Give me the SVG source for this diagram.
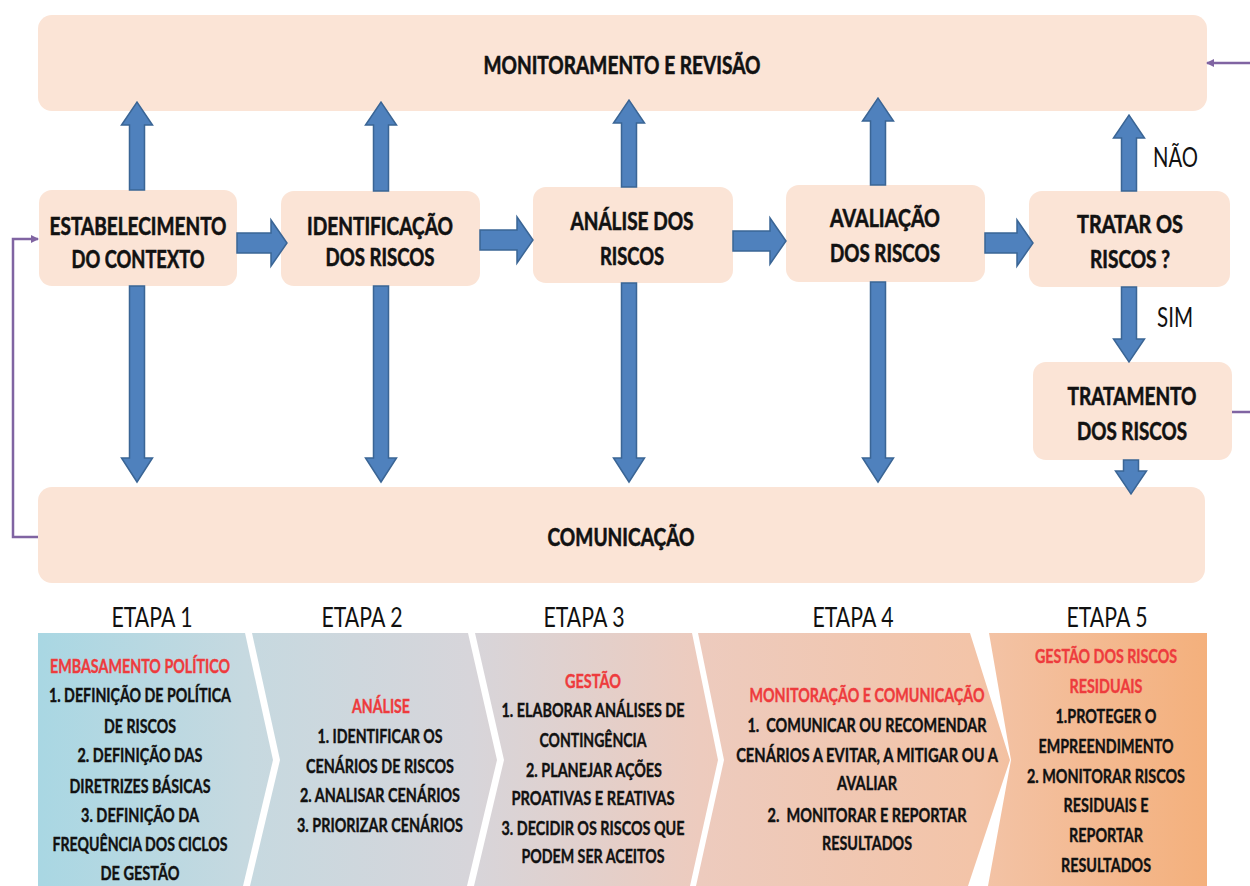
<svg xmlns="http://www.w3.org/2000/svg" width="1250" height="886" viewBox="0 0 1250 886">
  <defs>
    <style>
      .box { fill: #FBE4D6; }
      .lbl { font-family: Lato, "Open Sans", "Liberation Sans", sans-serif; font-weight: bold; font-size: 25px; fill: #111; stroke: #111; stroke-width: 0.6; text-anchor: middle; }
      .step { font-family: Lato, "Open Sans", "Liberation Sans", sans-serif; font-size: 26px; fill: #111; text-anchor: middle; }
      .yn { font-family: Lato, "Open Sans", "Liberation Sans", sans-serif; font-size: 26px; fill: #111; }
      .body { font-family: Lato, "Open Sans", "Liberation Sans", sans-serif; font-weight: bold; font-size: 19px; fill: #111; stroke: #111; stroke-width: 0.4; text-anchor: middle; }
      .head { fill: #EE3B3D; stroke: #EE3B3D; }
      .arrow { fill: #4F81BD; stroke: #3A6595; stroke-width: 1.5; stroke-linejoin: miter; }
      .loop { fill: none; stroke: #8064A2; stroke-width: 2.5; }
      .chev { fill: url(#stageFill); }
    </style>
    <linearGradient id="stageFill" gradientUnits="userSpaceOnUse" x1="38" y1="0" x2="1207" y2="0">
      <stop offset="0" stop-color="#A9D7E3"/>
      <stop offset="0.177" stop-color="#C6D9E0"/>
      <stop offset="0.37" stop-color="#D7D5DA"/>
      <stop offset="0.566" stop-color="#EDCBBE"/>
      <stop offset="0.80" stop-color="#F3C4A8"/>
      <stop offset="1" stop-color="#F4B07C"/>
    </linearGradient>
    <marker id="purpleHead" markerWidth="8" markerHeight="8" refX="7" refY="4" orient="auto" markerUnits="userSpaceOnUse">
      <path d="M0,0 L8,4 L0,8 Z" fill="#8064A2"/>
    </marker>
  </defs>

  <!-- process boxes -->
  <g id="monitoramento">
    <rect class="box" x="38" y="15" width="1169" height="96" rx="14"/>
    <text class="lbl" x="622" y="74" textLength="277" lengthAdjust="spacingAndGlyphs">MONITORAMENTO E REVISÃO</text>
  </g>
  <g id="comunicacao">
    <rect class="box" x="38" y="487" width="1167" height="96" rx="14"/>
    <text class="lbl" x="621" y="546" textLength="147" lengthAdjust="spacingAndGlyphs">COMUNICAÇÃO</text>
  </g>
  <g id="contexto">
    <rect class="box" x="39" y="190" width="198" height="96" rx="13"/>
    <text class="lbl" x="138" y="235" textLength="177" lengthAdjust="spacingAndGlyphs">ESTABELECIMENTO</text>
    <text class="lbl" x="138" y="268" textLength="133" lengthAdjust="spacingAndGlyphs">DO CONTEXTO</text>
  </g>
  <g id="identificacao">
    <rect class="box" x="281" y="191" width="199" height="95" rx="13"/>
    <text class="lbl" x="380" y="235" textLength="146" lengthAdjust="spacingAndGlyphs">IDENTIFICAÇÃO</text>
    <text class="lbl" x="380" y="266" textLength="109" lengthAdjust="spacingAndGlyphs">DOS RISCOS</text>
  </g>
  <g id="analise">
    <rect class="box" x="533" y="187" width="200" height="96" rx="13"/>
    <text class="lbl" x="632" y="230" textLength="123" lengthAdjust="spacingAndGlyphs">ANÁLISE DOS</text>
    <text class="lbl" x="632" y="265" textLength="64" lengthAdjust="spacingAndGlyphs">RISCOS</text>
  </g>
  <g id="avaliacao">
    <rect class="box" x="786" y="185" width="199" height="97" rx="13"/>
    <text class="lbl" x="885" y="227" textLength="110" lengthAdjust="spacingAndGlyphs">AVALIAÇÃO</text>
    <text class="lbl" x="885" y="262" textLength="110" lengthAdjust="spacingAndGlyphs">DOS RISCOS</text>
  </g>
  <g id="tratar">
    <rect class="box" x="1029" y="191" width="201" height="96" rx="13"/>
    <text class="lbl" x="1130" y="233" textLength="106" lengthAdjust="spacingAndGlyphs">TRATAR OS</text>
    <text class="lbl" x="1130" y="268" textLength="80" lengthAdjust="spacingAndGlyphs">RISCOS ?</text>
  </g>
  <g id="tratamento">
    <rect class="box" x="1033" y="362" width="199" height="98" rx="13"/>
    <text class="lbl" x="1132" y="405" textLength="129" lengthAdjust="spacingAndGlyphs">TRATAMENTO</text>
    <text class="lbl" x="1132" y="440" textLength="110" lengthAdjust="spacingAndGlyphs">DOS RISCOS</text>
  </g>

  <!-- connectors -->
  <g id="connectors">
    <!-- up to monitoring -->
    <path class="arrow" d="M129.5 190 V125 H121.5 L137 102 L152.5 125 H144.5 V190 Z"/>
    <path class="arrow" d="M373.5 191 V125 H365.5 L381 102 L396.5 125 H388.5 V191 Z"/>
    <path class="arrow" d="M621.5 187 V123 H613.5 L629 100 L644.5 123 H636.5 V187 Z"/>
    <path class="arrow" d="M870.5 185 V121 H862.5 L878 98 L893.5 121 H885.5 V185 Z"/>
    <path class="arrow" d="M1121.5 191 V138 H1113.5 L1129 115 L1144.5 138 H1136.5 V191 Z"/>
    <!-- down to communication -->
    <path class="arrow" d="M129.5 286 V458 H121.5 L137 482 L152.5 458 H144.5 V286 Z"/>
    <path class="arrow" d="M373.5 286 V458 H365.5 L381 482 L396.5 458 H388.5 V286 Z"/>
    <path class="arrow" d="M621.5 283 V458 H613.5 L629 482 L644.5 458 H636.5 V283 Z"/>
    <path class="arrow" d="M870.5 282 V458 H862.5 L878 482 L893.5 458 H885.5 V282 Z"/>
    <path class="arrow" d="M1121.5 287 V339 H1113.5 L1129 362 L1144.5 339 H1136.5 V287 Z"/>
    <path class="arrow" d="M1123.5 460 V471 H1115.5 L1131 494 L1146.5 471 H1138.5 V460 Z"/>
    <!-- main flow -->
    <path class="arrow" d="M237 233 H271 V220 L287 243 L271 266 V253 H237 Z"/>
    <path class="arrow" d="M480 230 H517 V217 L533 240 L517 263 V250 H480 Z"/>
    <path class="arrow" d="M733 231 H770 V218 L786 241 L770 264 V251 H733 Z"/>
    <path class="arrow" d="M985 233 H1017 V220 L1033 243 L1017 266 V253 H985 Z"/>
    <!-- feedback loops -->
    <path class="loop" d="M38 537 H13 V239 H38" marker-end="url(#purpleHead)"/>
    <path class="loop" d="M1232 412 H1262 V63 H1207" marker-end="url(#purpleHead)"/>
    <text class="yn" x="1153" y="167" textLength="45" lengthAdjust="spacingAndGlyphs">NÃO</text>
    <text class="yn" x="1157" y="327" textLength="36" lengthAdjust="spacingAndGlyphs">SIM</text>
  </g>

  <!-- stage labels -->
  <g id="etapas">
    <text class="step" x="152" y="627" textLength="81" lengthAdjust="spacingAndGlyphs">ETAPA 1</text>
    <text class="step" x="362" y="627" textLength="81" lengthAdjust="spacingAndGlyphs">ETAPA 2</text>
    <text class="step" x="584" y="627" textLength="81" lengthAdjust="spacingAndGlyphs">ETAPA 3</text>
    <text class="step" x="853" y="627" textLength="81" lengthAdjust="spacingAndGlyphs">ETAPA 4</text>
    <text class="step" x="1107" y="627" textLength="81" lengthAdjust="spacingAndGlyphs">ETAPA 5</text>
  </g>

  <!-- stage chevrons -->
  <g id="etapa1">
    <path class="chev" d="M38 633 H245 L273 760 L243 886 H38 Z"/>
    <text class="body head" x="140" y="673" textLength="180" lengthAdjust="spacingAndGlyphs">EMBASAMENTO POLÍTICO</text>
    <text class="body" x="140" y="702" textLength="182" lengthAdjust="spacingAndGlyphs">1. DEFINIÇÃO DE POLÍTICA</text>
    <text class="body" x="140" y="733" textLength="72" lengthAdjust="spacingAndGlyphs">DE RISCOS</text>
    <text class="body" x="140" y="762" textLength="125" lengthAdjust="spacingAndGlyphs">2. DEFINIÇÃO DAS</text>
    <text class="body" x="140" y="793" textLength="141" lengthAdjust="spacingAndGlyphs">DIRETRIZES BÁSICAS</text>
    <text class="body" x="140" y="822" textLength="118" lengthAdjust="spacingAndGlyphs">3. DEFINIÇÃO DA</text>
    <text class="body" x="140" y="851" textLength="175" lengthAdjust="spacingAndGlyphs">FREQUÊNCIA DOS CICLOS</text>
    <text class="body" x="140" y="880" textLength="79" lengthAdjust="spacingAndGlyphs">DE GESTÃO</text>
  </g>
  <g id="etapa2">
    <path class="chev" d="M252 633 H468 L497 760 L467 886 H250 L280 760 Z"/>
    <text class="body head" x="381" y="713" textLength="58" lengthAdjust="spacingAndGlyphs">ANÁLISE</text>
    <text class="body" x="380" y="743" textLength="125" lengthAdjust="spacingAndGlyphs">1. IDENTIFICAR OS</text>
    <text class="body" x="380" y="773" textLength="148" lengthAdjust="spacingAndGlyphs">CENÁRIOS DE RISCOS</text>
    <text class="body" x="380" y="802" textLength="160" lengthAdjust="spacingAndGlyphs">2. ANALISAR CENÁRIOS</text>
    <text class="body" x="380" y="832" textLength="166" lengthAdjust="spacingAndGlyphs">3. PRIORIZAR CENÁRIOS</text>
  </g>
  <g id="etapa3">
    <path class="chev" d="M475 633 H692 L718 760 L690 886 H474 L504 760 Z"/>
    <text class="body head" x="593" y="688" textLength="56" lengthAdjust="spacingAndGlyphs">GESTÃO</text>
    <text class="body" x="593" y="717" textLength="183" lengthAdjust="spacingAndGlyphs">1. ELABORAR ANÁLISES DE</text>
    <text class="body" x="593" y="747" textLength="107" lengthAdjust="spacingAndGlyphs">CONTINGÊNCIA</text>
    <text class="body" x="594" y="777" textLength="136" lengthAdjust="spacingAndGlyphs">2. PLANEJAR AÇÕES</text>
    <text class="body" x="593" y="805" textLength="163" lengthAdjust="spacingAndGlyphs">PROATIVAS E REATIVAS</text>
    <text class="body" x="593" y="835" textLength="183" lengthAdjust="spacingAndGlyphs">3. DECIDIR OS RISCOS QUE</text>
    <text class="body" x="593" y="863" textLength="143" lengthAdjust="spacingAndGlyphs">PODEM SER ACEITOS</text>
  </g>
  <g id="etapa4">
    <path class="chev" d="M698 633 H970 L1010 760 L968 886 H696 L724 760 Z"/>
    <text class="body head" x="867" y="702" textLength="235" lengthAdjust="spacingAndGlyphs">MONITORAÇÃO E COMUNICAÇÃO</text>
    <text class="body" x="867" y="732" textLength="239" lengthAdjust="spacingAndGlyphs" xml:space="preserve">1.  COMUNICAR OU RECOMENDAR</text>
    <!-- widest line: narrowed with a horizontal scale so its box stays inside the chevron -->
    <text class="body" transform="translate(867 762) scale(0.75 1)" x="0" y="0" textLength="349" lengthAdjust="spacingAndGlyphs">CENÁRIOS A EVITAR, A MITIGAR OU A</text>
    <text class="body" x="867" y="790" textLength="60" lengthAdjust="spacingAndGlyphs">AVALIAR</text>
    <text class="body" x="867" y="822" textLength="199" lengthAdjust="spacingAndGlyphs" xml:space="preserve">2.  MONITORAR E REPORTAR</text>
    <text class="body" x="867" y="850" textLength="90" lengthAdjust="spacingAndGlyphs">RESULTADOS</text>
  </g>
  <g id="etapa5">
    <path class="chev" d="M989 633 H1207 V886 H988 L1011 760 Z"/>
    <text class="body head" x="1106" y="663" textLength="142" lengthAdjust="spacingAndGlyphs">GESTÃO DOS RISCOS</text>
    <text class="body head" x="1106" y="693" textLength="73" lengthAdjust="spacingAndGlyphs">RESIDUAIS</text>
    <text class="body" x="1106" y="723" textLength="101" lengthAdjust="spacingAndGlyphs">1.PROTEGER O</text>
    <text class="body" x="1106" y="753" textLength="135" lengthAdjust="spacingAndGlyphs">EMPREENDIMENTO</text>
    <text class="body" x="1106" y="783" textLength="158" lengthAdjust="spacingAndGlyphs">2. MONITORAR RISCOS</text>
    <text class="body" x="1106" y="812" textLength="85" lengthAdjust="spacingAndGlyphs">RESIDUAIS E</text>
    <text class="body" x="1106" y="842" textLength="74" lengthAdjust="spacingAndGlyphs">REPORTAR</text>
    <text class="body" x="1106" y="872" textLength="90" lengthAdjust="spacingAndGlyphs">RESULTADOS</text>
  </g>
</svg>
